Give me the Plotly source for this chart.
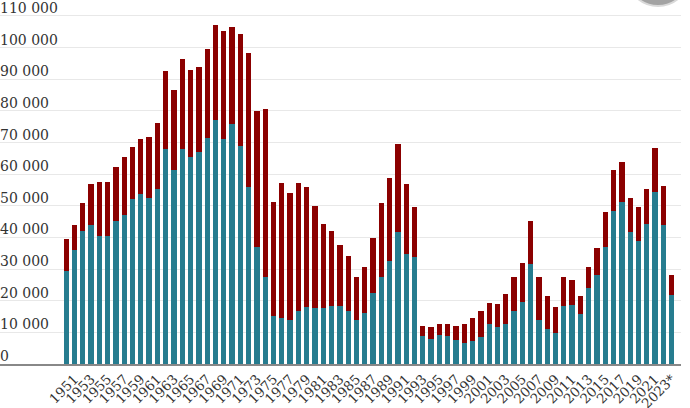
import plotly.graph_objects as go

years = list(range(1950, 2024))
total = [39500, 43900, 50900, 56800, 57500, 57500, 62400, 65500, 68600, 71100,
         71800, 76200, 92500, 86600, 96500, 92800, 93900, 99600, 107300, 105100,
         106400, 104300, 98400, 79900, 80700, 51200, 57200, 53900, 57200, 55800,
         50000, 44400, 42000, 37700, 34100, 27600, 30700, 39700, 50800, 58700,
         69500, 56800, 49500, 12000, 11800, 12800, 12700, 12000, 12600, 14600,
         16700, 19400, 18900, 22000, 27400, 31800, 45300, 27600, 21400, 17900,
         27600, 26600, 21400, 30600, 36600, 48200, 61300, 63800, 52600, 49500,
         55300, 68200, 56400, 28200]
teal = [29400, 36000, 42000, 43900, 40400, 40400, 45100, 47100, 52200, 53700,
        52400, 55300, 67800, 61400, 67800, 65400, 67100, 71500, 77100, 71100,
        75800, 68900, 55800, 36900, 27600, 15300, 14500, 13800, 16700, 17900,
        17700, 17700, 18400, 18400, 16700, 13900, 16100, 22600, 27600, 32500,
        41800, 34700, 33800, 8800, 7900, 9200, 8800, 7600, 6600, 7300,
        8500, 12500, 11700, 12800, 16900, 19700, 31600, 14000, 11200, 9700,
        18200, 18600, 15900, 24000, 28100, 37100, 48300, 51200, 41700, 38800,
        44100, 54300, 43900, 21800]
red = [t - b for t, b in zip(total, teal)]

tick_idx = [i for i, y in enumerate(years) if y % 2 == 1]
tick_text = [str(years[i]) + ("*" if years[i] == 2023 else "") for i in tick_idx]
y_ticks = list(range(0, 110001, 10000))
y_text = [f"{v:,}".replace(",", " ") for v in y_ticks]

xs = list(range(len(years)))
font = "DejaVu Serif"

fig = go.Figure()
fig.add_trace(go.Bar(x=xs, y=teal, marker=dict(color="#267c8f", line=dict(width=0)),
                     hoverinfo="skip"))
fig.add_trace(go.Bar(x=xs, y=red, marker=dict(color="#8b0000", line=dict(width=0)),
                     hoverinfo="skip"))

annotations = [dict(xref="paper", yref="y", x=0, y=v, text=t, showarrow=False,
                    xanchor="left", yanchor="bottom", xshift=-2, yshift=-2,
                    font=dict(size=14, family=font, color="#333333"))
               for v, t in zip(y_ticks, y_text)]

plot_h = 364.0
fig.update_layout(
    width=690, height=408,
    margin=dict(l=0, r=9, t=0, b=44),
    barmode="stack", bargap=0.36,
    showlegend=False,
    plot_bgcolor="white", paper_bgcolor="white",
    font=dict(family=font, color="#333333"),
    xaxis=dict(range=[-7.98, 74.13], tickvals=tick_idx, ticktext=tick_text,
               tickangle=-45, tickfont=dict(size=13.5, family=font, color="#333333"),
               showgrid=False, showline=True, linecolor="#888888", linewidth=2,
               ticks="", zeroline=False, fixedrange=True, automargin=False),
    yaxis=dict(range=[0, 115050], tickvals=y_ticks, showticklabels=False,
               showgrid=True, gridcolor="#e8e8e8", gridwidth=1,
               zeroline=False, showline=False, ticks="", fixedrange=True,
               automargin=False),
    annotations=annotations,
    shapes=[dict(type="circle", xref="paper", yref="paper",
                 x0=626.5 / 681, x1=689.5 / 681, y0=358 / plot_h, y1=421 / plot_h,
                 fillcolor="#a3a3a3", line=dict(color="#d9d9d9", width=2),
                 layer="above")],
)

fig.write_html("out.html")
